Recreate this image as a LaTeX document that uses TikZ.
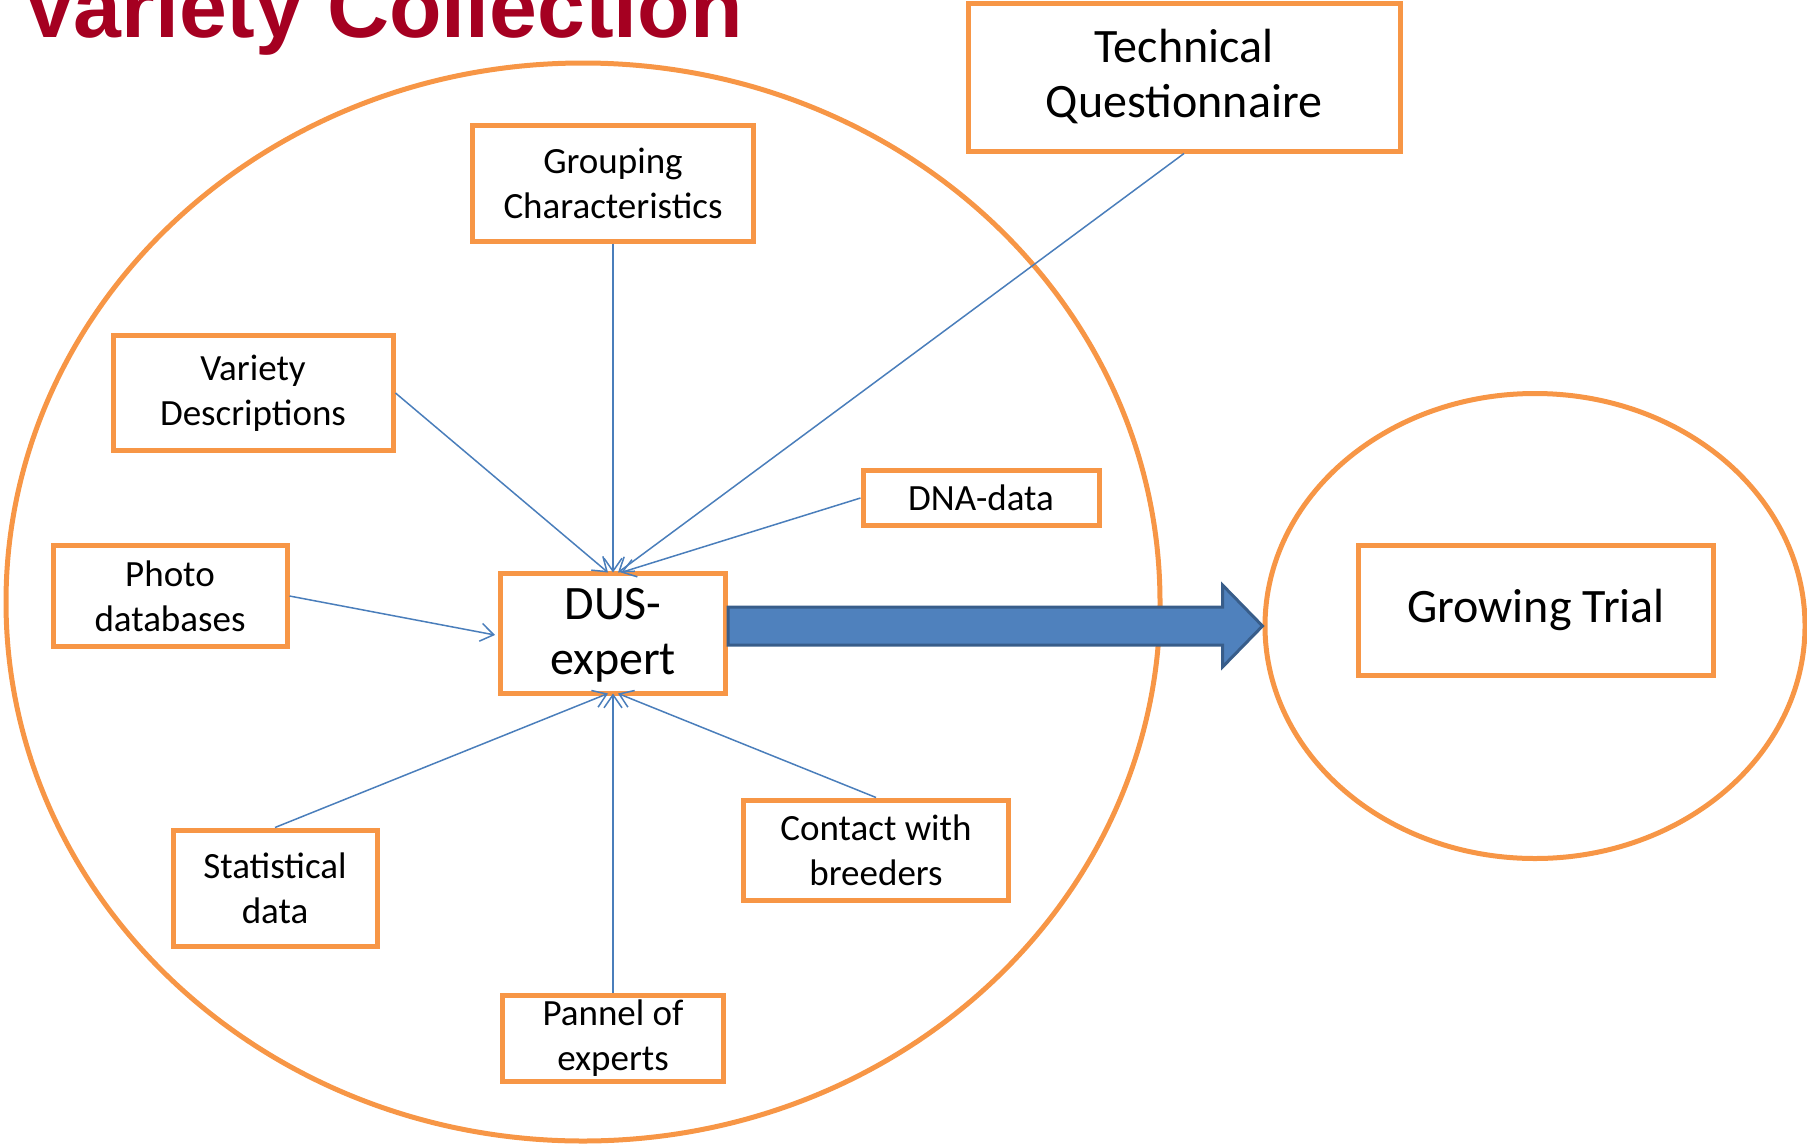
\documentclass[tikz,border=0pt]{standalone}
\usepackage{fontspec}
\setmainfont{Carlito}
\newfontfamily\titlefont{Liberation Sans}
\usetikzlibrary{shapes.geometric,arrows.meta,calc}
\definecolor{boxorange}{HTML}{F79646}
\definecolor{linkblue}{HTML}{4A7EBB}
\definecolor{arrowfill}{HTML}{4F81BD}
\definecolor{arrowedge}{HTML}{385D8A}
\definecolor{titlered}{HTML}{A50021}
\begin{document}
\begin{tikzpicture}[
	x=1pt, y=-1pt,
	zone/.style={ellipse, draw=boxorange, line width=5pt, inner sep=0pt},
	info box/.style={draw=boxorange, line width=5pt, fill=white, align=center, inner sep=0pt, font=\fontsize{37}{45}\selectfont},
	big text/.style={font=\fontsize{48}{55}\selectfont},
	link/.style={draw=linkblue, line width=1.5pt, -{Straight Barb[length=13pt,width=18pt]}},
	flow arrow/.style={fill=arrowfill, draw=arrowedge, line width=3pt, line join=miter}
	]
	\useasboundingbox (0,0) rectangle (1807,1146);

	% title, cut at the top edge as in the slide
	\node[anchor=base west, inner sep=0pt, text=titlered, font=\titlefont\bfseries\fontsize{86}{92}\selectfont] (title) at (21,37) {Variety Collection};

	% the two zones
	\node[zone, minimum width=1154, minimum height=1078] (collection) at (583,602) {};
	\node[zone, minimum width=540, minimum height=465] (trialzone) at (1535,626) {};

	% boxes
	\node[info box, big text, minimum width=432, minimum height=148] (techq) at (1184,77) {Technical\\Questionnaire};
	\node[info box, minimum width=281, minimum height=116] (groupchar) at (613,183) {Grouping\\Characteristics};
	\node[info box, minimum width=280, minimum height=115] (vardesc) at (253,393) {Variety\\Descriptions};
	\node[info box, minimum width=236, minimum height=55] (dnadata) at (981,498) {DNA-data};
	\node[info box, minimum width=234, minimum height=101] (photodb) at (170,596) {Photo\\databases};
	\node[info box, big text, minimum width=225, minimum height=120, text depth=4pt] (dus) at (613,633) {DUS-\\expert};
	\node[info box, big text, minimum width=355, minimum height=130] (trial) at (1536,610) {Growing Trial};
	\node[info box, minimum width=204, minimum height=116] (statdata) at (275,888) {Statistical\\data};
	\node[info box, minimum width=265, minimum height=100] (contact) at (876,850) {Contact with\\breeders};
	\node[info box, minimum width=221, minimum height=86] (pannel) at (613,1038) {Pannel of\\experts};

	% inputs of the DUS-expert
	\draw[link] (groupchar.south) -- ([yshift=-2pt]dus.north);
	\draw[link] (vardesc.east) -- ([xshift=-5pt,yshift=-2pt]dus.north);
	\draw[link] (techq.south) -- ([xshift=5pt,yshift=-2pt]dus.north);
	\draw[link] (dnadata.west) -- ([xshift=8pt,yshift=-2pt]dus.north);
	\draw[link] (photodb.east) -- ([xshift=-3pt,yshift=-2pt]dus.west);
	\draw[link] (statdata.north) -- ([xshift=-5pt,yshift=2pt]dus.south);
	\draw[link] (pannel.north) -- ([yshift=2pt]dus.south);
	\draw[link] (contact.north) -- ([xshift=5pt,yshift=2pt]dus.south);

	% towards the growing trial
	\coordinate (tip) at (trialzone.west);
	\draw[flow arrow] ($(dus.east |- tip)+(0,-19)$) -- ($(tip)+(-40,-19)$) -- ($(tip)+(-40,-41)$)
		-- (tip) -- ($(tip)+(-40,41)$) -- ($(tip)+(-40,19)$) -- ($(dus.east |- tip)+(0,19)$) -- cycle;
\end{tikzpicture}
\end{document}
